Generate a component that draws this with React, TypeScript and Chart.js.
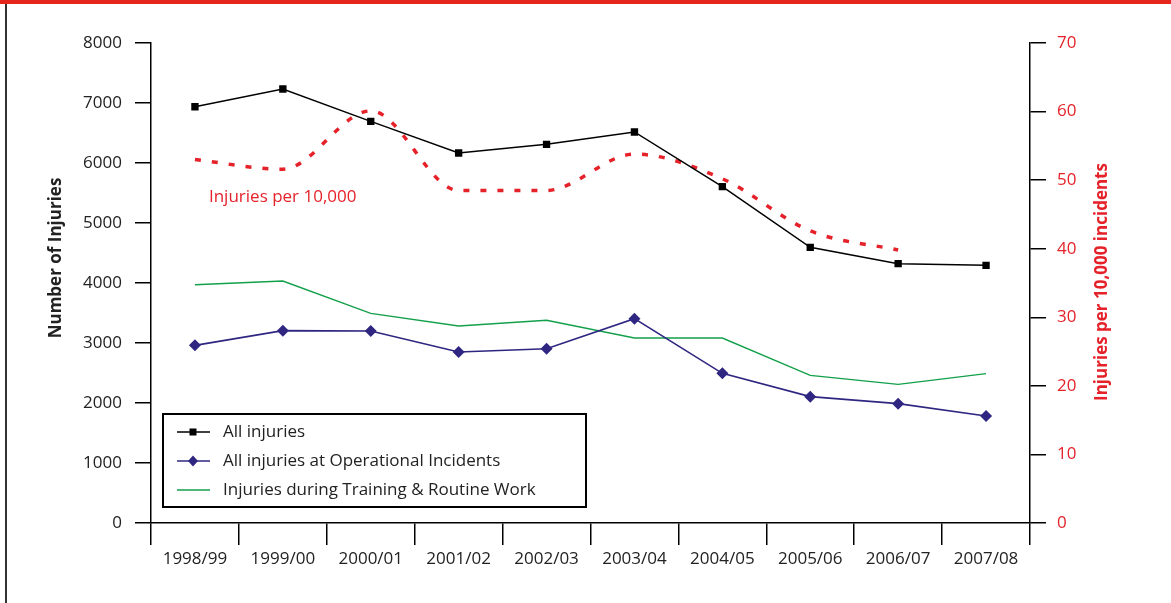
import React, { useEffect, useRef } from "react";
import { Chart, registerables } from "chart.js";

Chart.register(...registerables);

const categories = ["1998/99", "1999/00", "2000/01", "2001/02", "2002/03", "2003/04", "2004/05", "2005/06", "2006/07", "2007/08"];
const allInjuries = [6938, 7233, 6694, 6167, 6311, 6517, 5606, 4594, 4322, 4294];
const operationalInjuries = [2961, 3206, 3200, 2850, 2905, 3406, 2494, 2106, 1989, 1783];
const trainingInjuries = [3972, 4033, 3494, 3283, 3378, 3083, 3083, 2461, 2311, 2489];
const injuriesPer10000 = [53.0, 51.6, 60.1, 48.5, 48.5, 53.8, 50.2, 42.6, 39.8, null];

const leftAxisMax = 8000;
const leftAxisStep = 1000;
const rightAxisMax = 70;
const rightAxisStep = 10;

const seriesLabels = ["All injuries", "All injuries at Operational Incidents", "Injuries during Training & Routine Work"];
const leftTitle = "Number of Injuries";
const rightTitle = "Injuries per 10,000 incidents";
const annotationText = "Injuries per 10,000";
const annotationValue = 5430;

const FONT = "'Open Sans', 'Noto Sans', sans-serif";
const BLACK = "#000000";
const PURPLE = "#2e2680";
const GREEN = "#12a04a";
const RED = "#e5222a";
const TEXT = "#222222";

const decorPlugin = {
  id: "decor",
  afterDraw(chart: any) {
    const { ctx, chartArea, scales } = chart;
    ctx.save();
    // axis titles
    ctx.font = `bold 17px ${FONT}`;
    ctx.fillStyle = TEXT;
    ctx.textAlign = "center";
    ctx.textBaseline = "middle";
    ctx.save();
    ctx.translate(chartArea.left - 95, chartArea.top + 215);
    ctx.rotate(-Math.PI / 2);
    ctx.fillText(leftTitle, 0, 0);
    ctx.restore();
    ctx.fillStyle = RED;
    ctx.save();
    ctx.translate(chartArea.right + 72, chartArea.top + 239);
    ctx.rotate(-Math.PI / 2);
    ctx.fillText(rightTitle, 0, 0);
    ctx.restore();

    // annotation
    ctx.font = `17px ${FONT}`;
    ctx.fillStyle = RED;
    ctx.textAlign = "left";
    ctx.fillText(annotationText, scales.x.getPixelForValue(0) + 14, scales.y.getPixelForValue(annotationValue));

    // legend box
    const bx = chartArea.left + 12;
    const by = chartArea.bottom - 109;
    const bw = 423;
    const bh = 93;
    ctx.fillStyle = "#ffffff";
    ctx.fillRect(bx, by, bw, bh);
    ctx.lineWidth = 2;
    ctx.strokeStyle = BLACK;
    ctx.strokeRect(bx, by, bw, bh);
    const colors = [BLACK, PURPLE, GREEN];
    ctx.font = `17px ${FONT}`;
    for (let i = 0; i < 3; i++) {
      const y = by + 18 + i * 29;
      ctx.strokeStyle = colors[i];
      ctx.lineWidth = 1.5;
      ctx.beginPath();
      ctx.moveTo(bx + 14, y);
      ctx.lineTo(bx + 47, y);
      ctx.stroke();
      ctx.fillStyle = colors[i];
      const cx = bx + 30;
      if (i === 0) {
        ctx.fillRect(cx - 3.5, y - 3.5, 7, 7);
      } else if (i === 1) {
        ctx.beginPath();
        ctx.moveTo(cx, y - 5.5);
        ctx.lineTo(cx + 5, y);
        ctx.lineTo(cx, y + 5.5);
        ctx.lineTo(cx - 5, y);
        ctx.closePath();
        ctx.fill();
      }
      ctx.fillStyle = TEXT;
      ctx.textAlign = "left";
      ctx.textBaseline = "middle";
      ctx.fillText(seriesLabels[i], bx + 60, y);
    }
    ctx.restore();
  },
};

export default function App() {
  const canvasRef = useRef<HTMLCanvasElement>(null);

  useEffect(() => {
    document.body.style.margin = "0";
    const canvas = canvasRef.current;
    if (!canvas) return;
    Chart.defaults.font.family = FONT;
    const plain = (v: any) => String(v);
    const chart = new Chart(canvas, {
      type: "line",
      data: {
        labels: categories,
        datasets: [
          {
            label: seriesLabels[0],
            data: allInjuries,
            borderColor: BLACK,
            backgroundColor: BLACK,
            borderWidth: 1.5,
            pointStyle: "rect",
            pointRadius: 5.2,
            pointBorderWidth: 0,
            yAxisID: "y",
          },
          {
            label: seriesLabels[1],
            data: operationalInjuries,
            borderColor: PURPLE,
            backgroundColor: PURPLE,
            borderWidth: 1.6,
            pointStyle: "rectRot",
            pointRadius: 6,
            pointBorderWidth: 0,
            yAxisID: "y",
          },
          {
            label: seriesLabels[2],
            data: trainingInjuries,
            borderColor: GREEN,
            backgroundColor: GREEN,
            borderWidth: 1.4,
            pointRadius: 0,
            yAxisID: "y",
          },
          {
            label: annotationText,
            data: injuriesPer10000,
            borderColor: RED,
            backgroundColor: RED,
            borderWidth: 3.5,
            borderDash: [6, 11],
            borderCapStyle: "butt",
            cubicInterpolationMode: "monotone",
            pointRadius: 0,
            spanGaps: false,
            yAxisID: "y1",
          },
        ],
      },
      options: {
        animation: false,
        responsive: false,
        devicePixelRatio: 1,
        layout: { padding: { top: 43, left: 0, right: 0, bottom: 0 } },
        plugins: { legend: { display: false }, tooltip: { enabled: false } },
        scales: {
          x: {
            type: "category",
            offset: true,
            grid: {
              offset: true,
              drawOnChartArea: false,
              drawTicks: true,
              tickLength: 22,
              color: BLACK,
              lineWidth: 1.5,
            },
            border: { display: true, color: BLACK, width: 1.5 },
            ticks: { color: TEXT, font: { size: 17, family: FONT }, padding: 4, maxRotation: 0, autoSkip: false },
            afterFit(scale: any) {
              scale.height = 80;
            },
          },
          y: {
            position: "left",
            min: 0,
            max: leftAxisMax,
            ticks: { stepSize: leftAxisStep, color: TEXT, font: { size: 17, family: FONT }, padding: 13, callback: plain },
            grid: { drawOnChartArea: false, tickLength: 16, color: BLACK, lineWidth: 1.5 },
            border: { display: true, color: BLACK, width: 1.5 },
            afterFit(scale: any) {
              scale.width = 151;
            },
          },
          y1: {
            position: "right",
            min: 0,
            max: rightAxisMax,
            ticks: { stepSize: rightAxisStep, color: RED, font: { size: 17, family: FONT }, padding: 11, callback: plain },
            grid: { drawOnChartArea: false, tickLength: 16, color: BLACK, lineWidth: 1.5 },
            border: { display: true, color: BLACK, width: 1.5 },
            afterFit(scale: any) {
              scale.width = 141;
            },
          },
        },
      },
      plugins: [decorPlugin],
    });
    return () => chart.destroy();
  }, []);

  return (
    <div style={{ position: "relative", width: 1171, height: 603, background: "#ffffff", overflow: "hidden" }}>
      <div style={{ position: "absolute", left: 0, top: 0, width: 1171, height: 4, background: "#e4261c" }} />
      <div style={{ position: "absolute", left: 5, top: 4, width: 1.5, height: 599, background: "#333333" }} />
      <canvas ref={canvasRef} width={1171} height={603} style={{ display: "block" }} />
    </div>
  );
}
